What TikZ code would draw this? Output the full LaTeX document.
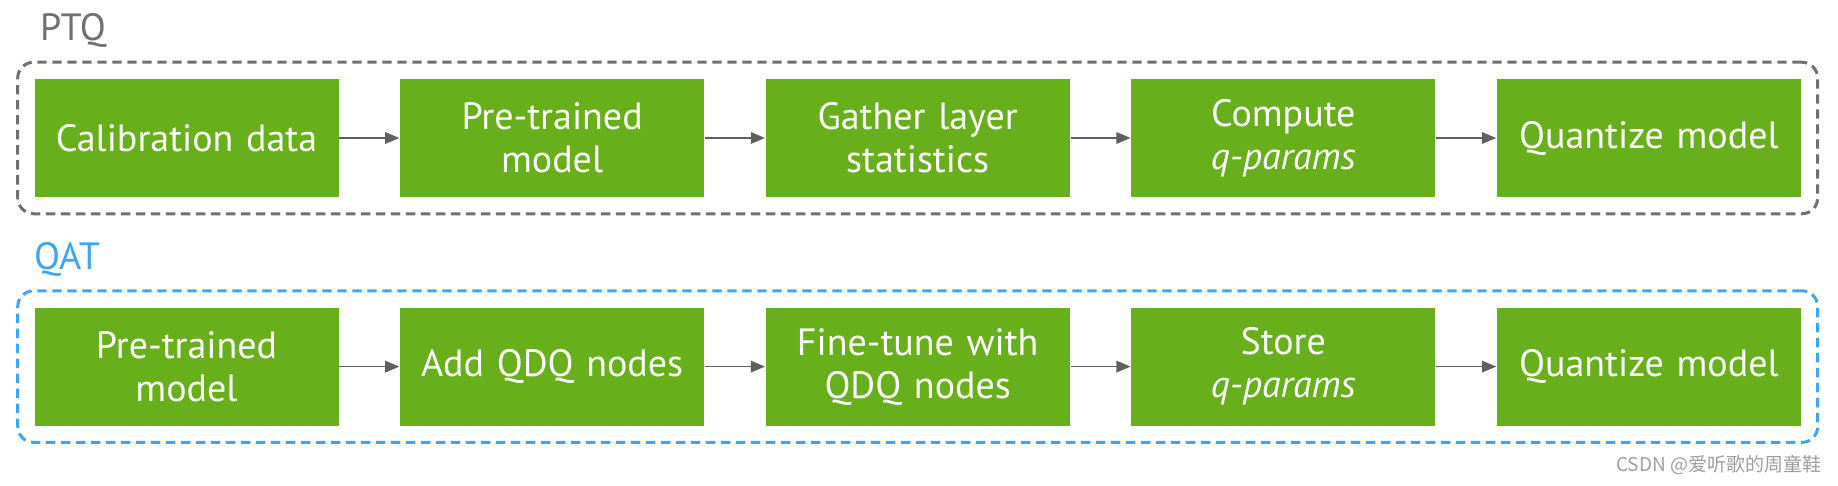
\documentclass[tikz,border=0pt]{standalone}
\usepackage{fontspec}
\setmainfont{PT Sans}
\newfontfamily\cjk{Noto Sans CJK SC}
\usepackage{tikz}
\usetikzlibrary{positioning, arrows, fit}
\definecolor{nvgreen}{RGB}{104,176,27}
\definecolor{ptqgray}{RGB}{112,112,112}
\definecolor{qatblue}{RGB}{64,164,245}
\definecolor{pilgray}{RGB}{95,95,95}

\begin{document}
\begin{tikzpicture}[auto, thick, node distance=30pt, >=triangle 45]
        \tikzset{
            % Define style for boxes
            stepbox/.style={
                    rectangle,
                    fill=nvgreen,
                    text=white,
                    inner sep=3pt,
                    minimum width=152pt,
                    minimum height=59pt,
                    text width=146pt,
                    align=center,
                    font=\fontsize{19}{21.5}\selectfont},
            % Define arrow style
            pil/.style={
                    ->,
                    line width=0.6pt,
                    draw=pilgray},
            % Define style for the dashed frames
            frame/.style={
                    rectangle,
                    rounded corners=8pt,
                    line width=1.5pt,
                    dash pattern=on 4.7pt off 2.8pt,
                    inner sep=8pt},
            grouplabel/.style={
                    anchor=base west,
                    inner sep=0pt,
                    font=\fontsize{19}{21.5}\selectfont},
        }
        \useasboundingbox (0,0) rectangle (919pt,-243pt);

        % Draw the PTQ steps
        \node[stepbox] (cal) at (93.25pt,-69pt) {Calibration data};
        \node[stepbox, right=of cal] (ptqpre) {Pre-trained\\model};
        \node[stepbox, right=of ptqpre] (gather) {Gather layer\\statistics};
        \node[stepbox, right=of gather] (compute) {Compute\\\textit{q-params}};
        \node[stepbox, right=of compute] (ptqquant) {Quantize model};

        % Draw the QAT steps
        \node[stepbox, below=54.5pt of cal] (qatpre) {Pre-trained\\model};
        \node[stepbox, right=of qatpre] (addqdq) {Add QDQ nodes};
        \node[stepbox, right=of addqdq] (finetune) {Fine-tune with\\QDQ nodes};
        \node[stepbox, right=of finetune] (store) {Store\\\textit{q-params}};
        \node[stepbox, right=of store] (qatquant) {Quantize model};

        % Frames and their labels
        \node[frame, draw=ptqgray, fit=(cal) (ptqquant)] (ptq) {};
        \node[frame, draw=qatblue, fit=(qatpre) (qatquant)] (qat) {};
        \node[grouplabel, text=ptqgray] (ptqlabel) at ([shift={(11.5pt,10pt)}]ptq.north west) {PTQ};
        \node[grouplabel, text=qatblue] (qatlabel) at ([shift={(8.5pt,10pt)}]qat.north west) {QAT};

        % Connect the steps with arrows
        \draw[pil] (cal) -- (ptqpre);
        \draw[pil] (ptqpre) -- (gather);
        \draw[pil] (gather) -- (compute);
        \draw[pil] (compute) -- (ptqquant);
        \draw[pil] (qatpre) -- (addqdq);
        \draw[pil] (addqdq) -- (finetune);
        \draw[pil] (finetune) -- (store);
        \draw[pil] (store) -- (qatquant);

        % Watermark
        \node[anchor=base east, inner sep=0pt, text=black!38, font=\cjk\fontsize{9.5}{11}\selectfont] (wm) at (911pt,-236pt) {CSDN @爱听歌的周童鞋};
\end{tikzpicture}
\end{document}
